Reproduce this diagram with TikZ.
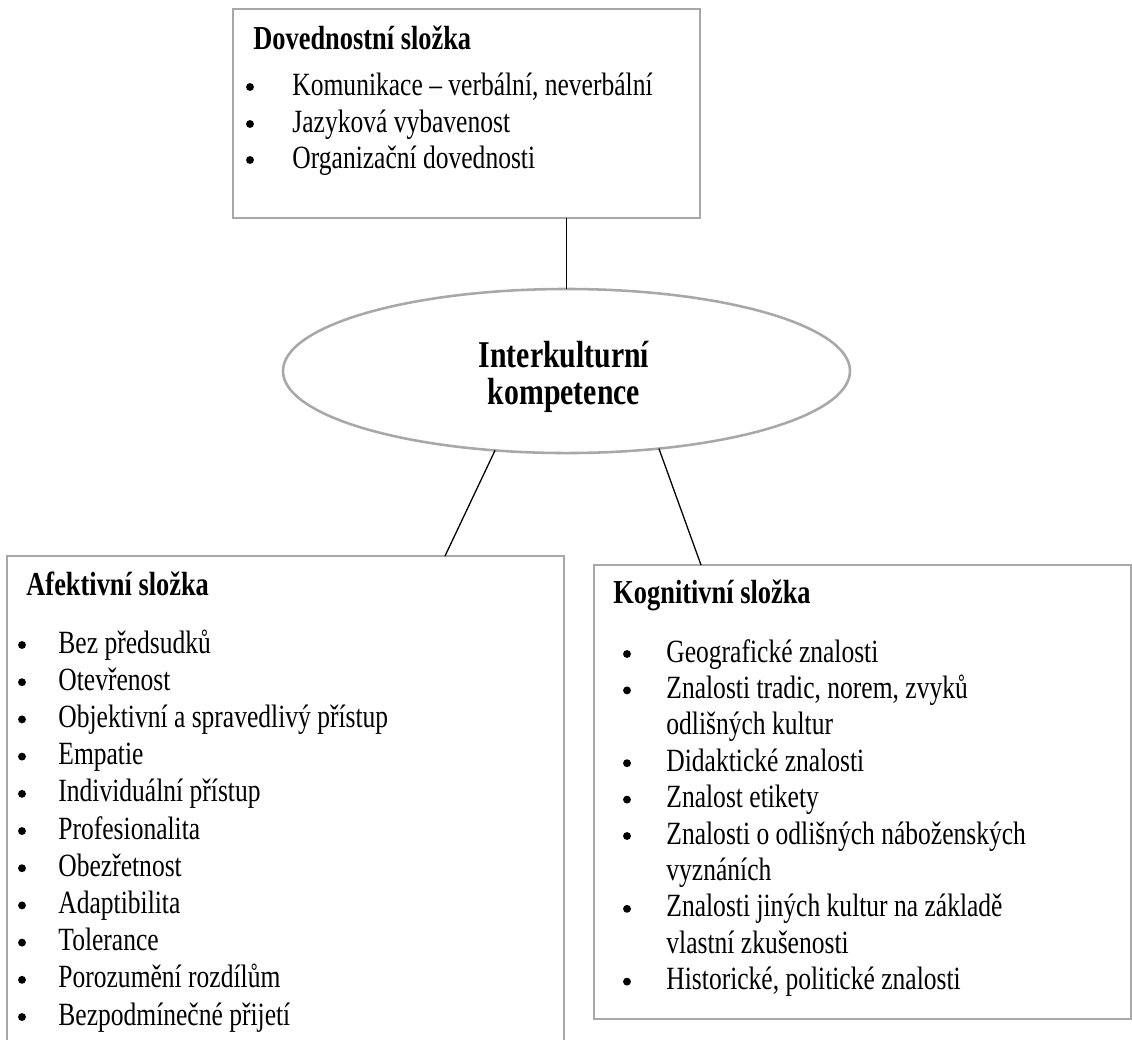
\documentclass[tikz,border=0pt]{standalone}
\usepackage{fontspec}
\setmainfont{Liberation Serif}
\usetikzlibrary{shapes.geometric}
\definecolor{boxgray}{RGB}{168,168,168}
\newcommand{\tall}[1]{\scalebox{1}[1.27]{#1}}
\begin{document}
\begin{tikzpicture}[x=0.47pt,y=-0.47pt,
  box/.style={draw=boxgray, line width=1.2pt, rectangle, inner sep=0pt, outer sep=0pt},
  oval/.style={draw=boxgray, line width=1.2pt, ellipse, inner sep=0pt, outer sep=0pt,
    minimum width=266.5pt, minimum height=77.1pt},
  conn/.style={draw=black, line width=0.6pt},
  txt/.style={anchor=base west, inner sep=0pt, font=\fontsize{12}{17}\selectfont},
  ttl/.style={txt, font=\fontsize{12.4}{17}\selectfont\bfseries},
  otxt/.style={anchor=base, inner sep=0pt, font=\fontsize{14}{17}\selectfont\bfseries},
  bul/.style={circle, fill=black, inner sep=0pt, minimum size=3.7pt}]
\clip (0,0) rectangle (1132,1039);
\useasboundingbox (0,0) rectangle (1132,1039);
\fill[white] (0,0) rectangle (1132,1039);

% boxes
\node[box, minimum width=219.5pt, minimum height=98.2pt] (top) at (466.5,113.5) {};
\node[box, minimum width=261.8pt, minimum height=236.9pt] (lbox) at (285.5,808) {};
\node[box, minimum width=252.4pt, minimum height=213.4pt] (rbox) at (862.5,792) {};
\node[oval] (ell) at (566.5,371) {};
\node[otxt] (e1) at (564,367) {\tall{Interkulturní}};
\node[otxt] (e2) at (564,404) {\tall{kompetence}};

% connector end points on box tops
\coordinate (lt) at (445,556);
\coordinate (rt) at (701,565);
\draw[conn] (top.south -| ell.north) -- (ell.north);
\draw[conn] (ell.228.8) -- (lt);
\draw[conn] (ell.320.7) -- (rt);

% top box
\node[ttl] (t0) at (253,49) {\tall{Dovednostní složka}};
\foreach \y/\t [count=\i] in {95/{Komunikace – verbální, neverbální},132/{Jazyková vybavenost},168/{Organizační dovednosti}}{
  \node[bul] (tb\i) at (250,\y-8) {};
  \node[txt] (ti\i) at (292,\y) {\tall{\t}};
}

% left box
\node[ttl] (l0) at (26,595) {\tall{Afektivní složka}};
\foreach \y/\t [count=\i] in {653/{Bez předsudků},690.2/{Otevřenost},727.4/{Objektivní a spravedlivý přístup},764.6/{Empatie},801.8/{Individuální přístup},839/{Profesionalita},876.2/{Obezřetnost},913.4/{Adaptibilita},950.6/{Tolerance},987.8/{Porozumění rozdílům},1025/{Bezpodmínečné přijetí}}{
  \node[bul] (lb\i) at (22,\y-8) {};
  \node[txt] (li\i) at (58,\y) {\tall{\t}};
}

% right box
\node[ttl] (r0) at (613,603) {\tall{Kognitivní složka}};
\foreach \y/\t/\b [count=\i] in {662/{Geografické znalosti}/1,698.4/{Znalosti tradic, norem, zvyků}/1,734.8/{odlišných kultur}/0,771.2/{Didaktické znalosti}/1,807.6/{Znalost etikety}/1,844/{Znalosti o odlišných náboženských}/1,880.4/{vyznáních}/0,916.8/{Znalosti jiných kultur na základě}/1,953.2/{vlastní zkušenosti}/0,989.6/{Historické, politické znalosti}/1}{
  \ifnum\b=1 \node[bul] (rb\i) at (627,\y-8) {};\fi
  \node[txt] (ri\i) at (666,\y) {\tall{\t}};
}
\end{tikzpicture}
\end{document}
